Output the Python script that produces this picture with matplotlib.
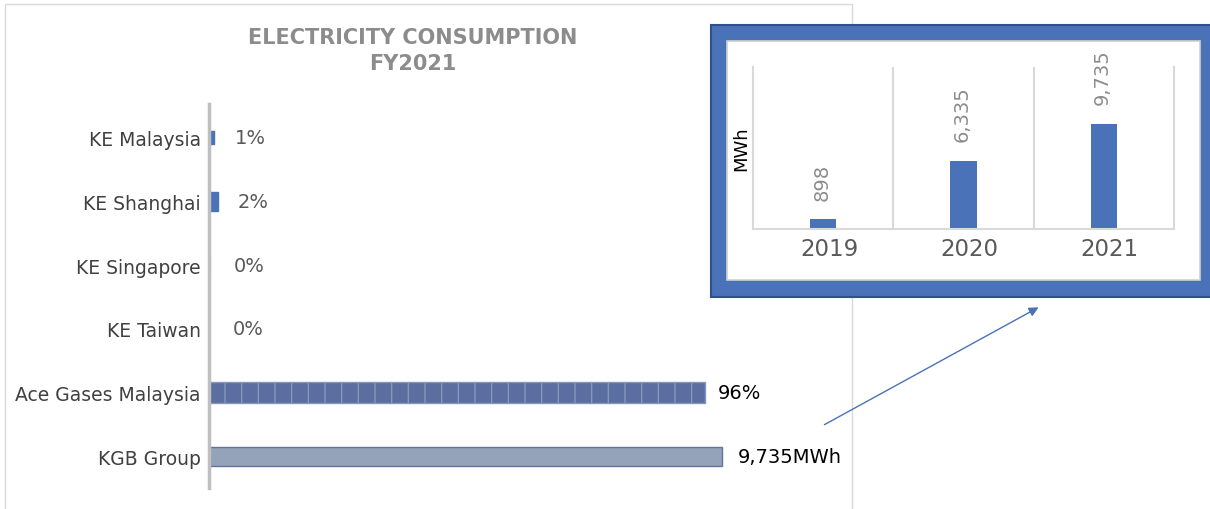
import matplotlib
matplotlib.use("Agg")
import matplotlib.pyplot as plt
import matplotlib.transforms as mtrans
from matplotlib.patches import Rectangle, FancyArrowPatch

# ---- data ----
sites = ["KE Malaysia", "KE Shanghai", "KE Singapore", "KE Taiwan",
         "Ace Gases Malaysia", "KGB Group"]
site_mwh = [90, 170, 15, 8, 9420, 9735]
site_labels = ["1%", "2%", "0%", "0%", "96%", "9,735MWh"]

years = ["2019", "2020", "2021"]
year_mwh = [898, 6335, 9735]
year_labels = ["898", "6,335", "9,735"]

W, H = 1210, 510
fig = plt.figure(figsize=(W / 100, H / 100), dpi=100)
fig.patch.set_facecolor("white")
plt.rcParams["hatch.linewidth"] = 1.0

def fx(x):
    return x / W

def fy(y):
    return 1 - y / H

# main chart border
fig.add_artist(Rectangle((fx(5), fy(520)), fx(852) - fx(5), fy(5) - fy(520),
                         transform=fig.transFigure, facecolor="none",
                         edgecolor="#d9d9d9", lw=1, zorder=0.5))

# title
title_kw = dict(ha="center", va="center", fontsize=15, fontweight="bold",
                color="#8c8c8c", family="DejaVu Sans")
fig.text(fx(413), fy(38), "ELECTRICITY CONSUMPTION", **title_kw)
fig.text(fx(413), fy(64), "FY2021", **title_kw)

# ---- main horizontal bar chart ----
ax = fig.add_axes([fx(209), fy(489), 632.4 / W, (489 - 105) / H])
ax.set_facecolor("none")
ypos = list(range(len(sites)))
face = ["#4a72b8", "#4a72b8", "#dde3ee", "#e4e8f0", "#5a6e9f", "#94a2ba"]
edge = ["#4a72b8", "#4a72b8", "#dde3ee", "#e4e8f0", "#8696bd", "#62749e"]
heights = [0.2, 0.3, 0.3, 0.3, 0.33, 0.3]
hatches = [None, None, None, None, "|", None]
bars = ax.barh(ypos, site_mwh, height=heights, color=face, edgecolor=edge,
               lw=1.0, hatch=hatches)
ax.set_xlim(0, 12000)
ax.set_ylim(5.5, -0.53)
ax.set_yticks(ypos)
ax.set_yticklabels(sites, fontsize=13.5, color="#404040")
ax.tick_params(axis="y", length=0, pad=6)
ax.set_xticks([])
for s in ["top", "right", "bottom"]:
    ax.spines[s].set_visible(False)
ax.spines["left"].set_color("#bfbfbf")
ax.spines["left"].set_linewidth(2.5)
lab_colors = ["#595959", "#595959", "#595959", "#595959", "black", "black"]
pads = [15, 14, 17, 17, 9, 11]
for b, t, c, p in zip(bars, site_labels, lab_colors, pads):
    ax.annotate(t, (b.get_width(), b.get_y() + b.get_height() / 2),
                xytext=(p, 0), textcoords="offset points", ha="left",
                va="center", fontsize=14, color=c)

# ---- inset frame ----
fig.add_artist(Rectangle((fx(711), fy(298)), fx(1230) - fx(711), fy(26) - fy(298),
                         transform=fig.transFigure, facecolor="#4a72b8",
                         edgecolor="#2f528f", lw=1.5, zorder=3))
fig.add_artist(Rectangle((fx(727), fy(281)), fx(1200) - fx(727), fy(42) - fy(281),
                         transform=fig.transFigure, facecolor="white",
                         edgecolor="#d0d0d0", lw=1.2, zorder=3.5))

# ---- inset bar chart ----
ax2 = fig.add_axes([fx(753), fy(230), (1174 - 753) / W, (230 - 68) / H])
ax2.set_zorder(5)
ax2.set_facecolor("none")
xpos = list(range(len(years)))
ybars = ax2.bar(xpos, year_mwh, width=0.186, color="#4a72b8")
ax2.set_xlim(-0.5, 2.5)
ax2.set_ylim(0, 15000)
ax2.set_xticks(xpos)
ax2.set_xticklabels(years, fontsize=16.5, color="#595959")
ax2.tick_params(axis="x", length=0, pad=6)
shift = mtrans.ScaledTranslation(6 / 100, 0, fig.dpi_scale_trans)
for lab in ax2.get_xticklabels():
    lab.set_transform(lab.get_transform() + shift)
ax2.set_yticks([])
for xb in [0.5, 1.5]:
    ax2.axvline(xb, color="#d9d9d9", lw=1.5)
ax2.spines["top"].set_visible(False)
for s in ["left", "right", "bottom"]:
    ax2.spines[s].set_color("#d9d9d9")
    ax2.spines[s].set_linewidth(1.5)
ax2.set_ylabel("MWh", fontsize=13, color="black", labelpad=2)
for b, t in zip(ybars, year_labels):
    ax2.annotate(t, (b.get_x() + b.get_width() / 2, b.get_height()),
                 xytext=(-1, 14), textcoords="offset points", ha="center",
                 va="bottom", rotation=90, fontsize=14, color="#8c8c8c")

# ---- arrow ----
fig.add_artist(FancyArrowPatch((fx(822), fy(427)), (fx(1041), fy(307)),
                               transform=fig.transFigure, arrowstyle="-|>",
                               mutation_scale=14, color="#4a72b8", lw=1,
                               zorder=6))

fig.savefig("out.png", dpi=100)
